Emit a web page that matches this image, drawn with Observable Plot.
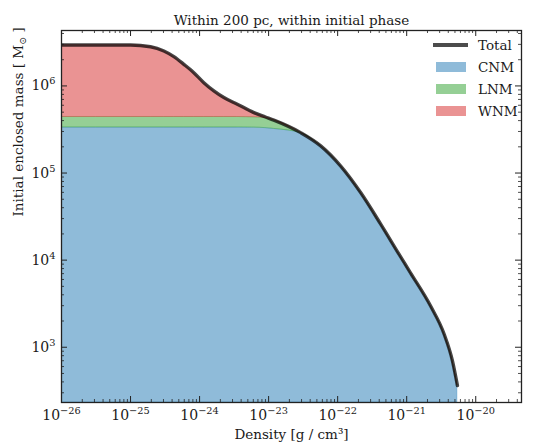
<!DOCTYPE html>
<html><head><meta charset="utf-8">
<script src="https://cdn.jsdelivr.net/npm/d3@7"></script>
<script src="https://cdn.jsdelivr.net/npm/@observablehq/plot@0.6"></script>
<style>
body{margin:0;background:#fff;font-family:"DejaVu Serif",serif}
#wrap{position:relative;width:534px;height:444px}
#wrap svg{position:absolute;left:0;top:0}
.legrow{position:absolute;display:flex;align-items:center;font-size:13.5px;color:#1a1a1a;white-space:nowrap}
.legsw{display:inline-block}
</style></head><body><div id="wrap"></div>
<script>
const title = "Within 200 pc, within initial phase";
const xLabel = "Density [g / cm³]";
const yLabel = "Initial enclosed mass [ M⊙ ]";

const density = [1e-26, 1e-25, 1.95e-25, 3.04e-25, 4.25e-25, 5.92e-25, 8.26e-25, 1.153e-24, 1.61e-24, 2.25e-24, 3.52e-24, 6.12e-24, 9e-24, 1.19e-23, 2.91e-23, 5.68e-23, 1.1e-22, 2.15e-22, 4.2e-22, 7.73e-22, 1.14e-21, 2.23e-21, 3.48e-21, 4.59e-21, 5.43e-21];
const total   = [2.95e6, 2.95e6, 2.82e6, 2.52e6, 2.17e6, 1.77e6, 1.42e6, 1.09e6, 8.77e5, 7.35e5, 6.17e5, 4.94e5, 4.4e5, 4.05e5, 2.91e5, 2.05e5, 1.21e5, 5.97e4, 2.59e4, 1.17e4, 7.1e3, 2.95e3, 1.42e3, 702, 363];
const cnm     = [3.33e5, 3.33e5, 3.33e5, 3.33e5, 3.33e5, 3.33e5, 3.33e5, 3.33e5, 3.33e5, 3.33e5, 3.33e5, 3.32e5, 3.28e5, 3.21e5, 2.88e5, 2.05e5, 1.21e5, 5.97e4, 2.59e4, 1.17e4, 7.1e3, 2.95e3, 1.42e3, 702, 363];
const lnm     = [1.07e5, 1.07e5, 1.07e5, 1.07e5, 1.07e5, 1.07e5, 1.07e5, 1.07e5, 1.07e5, 1.07e5, 1.07e5, 1.05e5, 1.0e5, 8.4e4, 3e3, 0, 0, 0, 0, 0, 0, 0, 0, 0, 0];
const wnm     = [2.51e6, 2.51e6, 2.38e6, 2.08e6, 1.73e6, 1.33e6, 9.8e5, 6.5e5, 4.37e5, 2.95e5, 1.77e5, 5.7e4, 1.2e4, 0, 0, 0, 0, 0, 0, 0, 0, 0, 0, 0, 0];

const phases = ["CNM", "LNM", "WNM"];
const phaseColors = ["#1f77b4", "#2ca02c", "#d62728"];
const xTicks = [1e-26, 1e-25, 1e-24, 1e-23, 1e-22, 1e-21, 1e-20];
const yTicks = [1e3, 1e4, 1e5, 1e6];
const xDomain = [1e-26, 4.6e-20];
const yDomain = [232, 4.33e6];

const W = 534, Hh = 444, mT = 30, mB = 42, mL = 61, mR = 13;
const PW = W - mL - mR, PH = Hh - mT - mB;

// stacked rows (CNM at bottom, then LNM, then WNM up to the total)
const rows = [];
density.forEach((d, i) => {
  const c = cnm[i], l = c + lnm[i];
  rows.push({x: d, y1: yDomain[0], y2: c, phase: "CNM"});
  rows.push({x: d, y1: c, y2: l, phase: "LNM"});
  rows.push({x: d, y1: l, y2: l + wnm[i], phase: "WNM"});
});
const totalRows = density.map((d, i) => ({x: d, y: total[i]}));

const fmt = v => "10^" + Math.round(Math.log10(v));

const isPow = v => Math.abs(Math.log10(v) - Math.round(Math.log10(v))) < 1e-6;
const xMinor = d3.scaleLog().domain(xDomain).ticks().filter(v => !isPow(v));
const yMinor = d3.scaleLog().domain(yDomain).ticks().filter(v => !isPow(v));
const xMajorIn = xTicks.filter(v => v >= xDomain[0] && v <= xDomain[1]);

const chart = Plot.plot({
  width: W, height: Hh,
  marginTop: mT, marginBottom: mB, marginLeft: mL, marginRight: mR,
  style: {fontFamily: "DejaVu Serif", fontSize: "13.5px", color: "#1a1a1a", background: "white"},
  x: {type: "log", domain: xDomain, axis: null},
  y: {type: "log", domain: yDomain, axis: null},
  color: {domain: phases, range: phaseColors},
  marks: [
    Plot.areaY(rows, {x: "x", y1: "y1", y2: "y2", z: "phase", fill: "phase", fillOpacity: 0.5, stroke: "phase", strokeOpacity: 0.3, strokeWidth: 1, curve: "monotone-x", clip: true}),
    Plot.line(totalRows, {x: "x", y: "y", stroke: "black", strokeOpacity: 0.72, strokeWidth: 3.4, curve: "monotone-x", clip: true}),
    Plot.tickX(xMajorIn, {x: d => d, insetTop: PH - 6, stroke: "#222", strokeWidth: 1}),
    Plot.tickX(xMajorIn, {x: d => d, insetBottom: PH - 6, stroke: "#222", strokeWidth: 1}),
    Plot.tickX(xMinor, {x: d => d, insetTop: PH - 3, stroke: "#222", strokeWidth: 0.8}),
    Plot.tickX(xMinor, {x: d => d, insetBottom: PH - 3, stroke: "#222", strokeWidth: 0.8}),
    Plot.tickY(yTicks, {y: d => d, insetRight: PW - 6, stroke: "#222", strokeWidth: 1}),
    Plot.tickY(yTicks, {y: d => d, insetLeft: PW - 6, stroke: "#222", strokeWidth: 1}),
    Plot.tickY(yMinor, {y: d => d, insetRight: PW - 3, stroke: "#222", strokeWidth: 0.8}),
    Plot.tickY(yMinor, {y: d => d, insetLeft: PW - 3, stroke: "#222", strokeWidth: 0.8}),
    Plot.frame({stroke: "#222", strokeWidth: 1.3}),
    Plot.axisX(xTicks, {tickSize: 0, tickPadding: 8, tickFormat: fmt, label: null}),
    Plot.axisY(yTicks, {tickSize: 0, tickPadding: 6, tickFormat: fmt, label: null}),
    Plot.text([xLabel], {frameAnchor: "bottom", dy: 36, fontSize: 13.5}),
    Plot.text([yLabel], {frameAnchor: "left", dx: -43, rotate: -90, fontSize: 13.5}),
    Plot.text([title], {frameAnchor: "top", dy: -15, fontSize: 13.5})
  ]
});

// math-style tick labels: 10 with a raised exponent
d3.select(chart).selectAll("text").each(function(){
  const m = /^10\^(-?\d+)$/.exec(this.textContent);
  if (!m) return;
  const t = d3.select(this);
  t.text(null).attr("font-size", "14px").style("font-size", "14px");
  t.append("tspan").style("font-size", "14px").text("10");
  t.append("tspan").style("font-size", "9.8px").attr("dy", "-6").text(m[1].replace("-", "−"));
});

// subscript sun symbol in y label
d3.select(chart).selectAll("text").filter(function(){ return this.textContent === yLabel; }).each(function(){
  const t = d3.select(this);
  t.text(null);
  t.append("tspan").text("Initial enclosed mass [ M");
  t.append("tspan").style("font-size", "9.5px").attr("dy", "3.5").text("⊙");
  t.append("tspan").attr("dy", "-3.5").text(" ]");
});

const wrap = document.getElementById("wrap");
wrap.appendChild(chart);

// legend
const legend = [{label: "Total", type: "line"}].concat(phases.map((p, i) => ({label: p, type: "patch", color: phaseColors[i]})));
legend.forEach((e, i) => {
  const row = document.createElement("div");
  row.className = "legrow";
  row.style.left = "433px";
  row.style.top = (36 + i * 22) + "px";
  row.style.height = "18px";
  const sw = document.createElement("span");
  sw.className = "legsw";
  if (e.type === "line") {
    sw.style.width = "35px"; sw.style.height = "4px"; sw.style.background = "rgba(0,0,0,0.7)";
    sw.style.marginRight = "10px";
  } else {
    sw.style.width = "30px"; sw.style.height = "10px"; sw.style.marginLeft = "3px"; sw.style.marginRight = "12px";
    sw.style.background = d3.color(e.color).copy({opacity: 0.5}).formatRgb();
  }
  const tx = document.createElement("span");
  tx.textContent = e.label;
  row.appendChild(sw); row.appendChild(tx);
  wrap.appendChild(row);
});
</script></body></html>
